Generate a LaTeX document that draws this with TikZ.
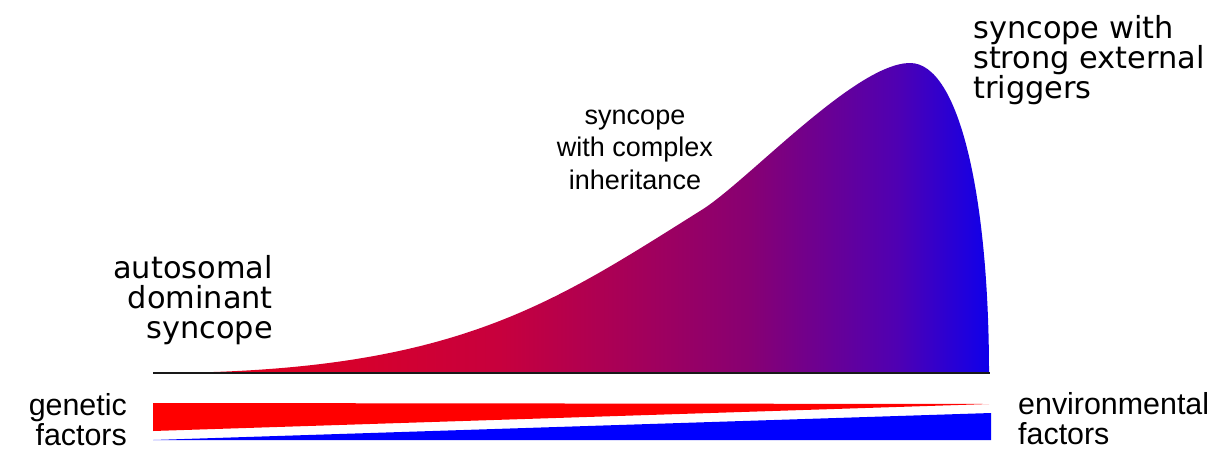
\documentclass[tikz,border=0pt]{standalone}
\usepackage{fontspec}
\newfontfamily\dejavu{DejaVu Sans}
\newfontfamily\arialf{Liberation Sans}
\pgfdeclarehorizontalshading{rbshade}{100bp}{%
  rgb(0bp)=(0.92,0,0.08);
  rgb(25bp)=(0.92,0,0.08);
  rgb(45.75bp)=(0.78,0,0.24);
  rgb(60.7bp)=(0.53,0,0.45);
  rgb(69.5bp)=(0.31,0,0.70);
  rgb(75bp)=(0.06,0,0.92);
  rgb(100bp)=(0.06,0,0.92)}
\begin{document}
\begin{tikzpicture}[x=1pt,y=-1pt,
  lbldv/.style={inner sep=0pt,font=\dejavu\fontsize{30.4}{30}\selectfont},
  lblar/.style={inner sep=0pt,font=\arialf\fontsize{27}{32.5}\selectfont},
  lblbot/.style={inner sep=0pt,font=\arialf\fontsize{30.4}{29.5}\selectfont}]
\useasboundingbox (0,0) rectangle (1214,450);
% gradient hump
\coordinate (c0) at (153,373);
\coordinate (c1) at (700,211);
\coordinate (pk) at (910,63);
\coordinate (c3) at (989,373);
\shade[shading=rbshade] (c0) .. controls (453,373) and (550,305) .. (c1)
  .. controls (745,184) and (855,63) .. (pk)
  .. controls (960,63) and (989,200) .. (c3) -- cycle;
% baseline
\coordinate (bl) at (153,373);
\coordinate (br) at (990,373);
\draw[line width=2pt,black!90] (bl) -- (br);
% wedges
\coordinate (rA) at (153,403);
\coordinate (rB) at (989,404);
\coordinate (rC) at (153,431);
\fill[red] (rA) -- (rB) -- (rC) -- cycle;
\coordinate (bA) at (153,440);
\coordinate (bB) at (991,413);
\coordinate (bC) at (991,440);
\fill[blue] (bA) -- (bB) -- (bC) -- cycle;
% labels (base anchor = baseline of last line)
\node[lbldv,anchor=base east,align=right] (ad) at (273,338) {autosomal\\dominant\\syncope};
\node[lblar,anchor=base,align=center] (ci) at (635,189) {syncope\\with complex\\inheritance};
\node[lbldv,anchor=base west,align=left] (st) at (973,98) {syncope with\\strong external\\triggers};
\node[lblbot,anchor=base east,align=right] (gf) at (127,445) {genetic\\factors};
\node[lblbot,anchor=base west,align=left] (ef) at (1018,444) {environmental\\factors};
\end{tikzpicture}
\end{document}
